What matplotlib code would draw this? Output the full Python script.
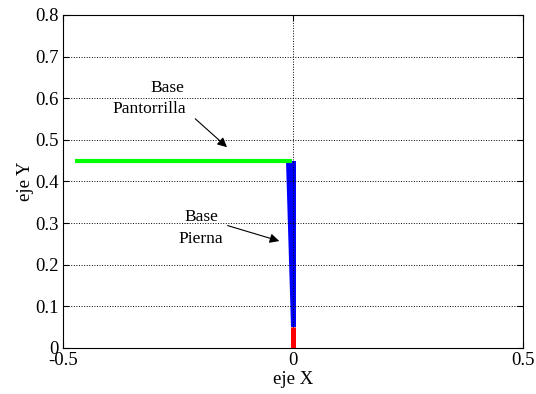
import matplotlib.pyplot as plt

plt.rcParams['font.family'] = ['Liberation Serif', 'DejaVu Serif']
plt.rcParams['font.size'] = 13.5

# leg (pierna) quadrilateral, foot (pantorrilla) line, base segment
pierna_x = [-0.016, 0.006, 0.006, -0.005]
pierna_y = [0.45, 0.45, 0.05, 0.05]
pantorrilla_x = [-0.474, -0.002]
pantorrilla_y = [0.449, 0.449]
base_x = [0.0005, 0.0005]
base_y = [0.0, 0.05]

xticks = [-0.5, 0, 0.5]
yticks = [0, 0.1, 0.2, 0.3, 0.4, 0.5, 0.6, 0.7, 0.8]

fig = plt.figure(figsize=(5.36, 3.94), dpi=100)
ax = fig.add_axes([0.1175, 0.1168, 0.8583, 0.8452])

ax.fill(pierna_x, pierna_y, color='#0000ff', lw=0)
ax.plot(pantorrilla_x, pantorrilla_y, color='#00ff00', lw=3, solid_capstyle='butt')
ax.plot(base_x, base_y, color='#ff0000', lw=3.6, solid_capstyle='butt')

ax.set_xlim(-0.5, 0.5)
ax.set_ylim(0, 0.8)
ax.set_xticks(xticks)
ax.set_xticklabels(['-0.5', '0', '0.5'])
ax.set_yticks(yticks)
ax.set_yticklabels(['0', '0.1', '0.2', '0.3', '0.4', '0.5', '0.6', '0.7', '0.8'])
ax.tick_params(direction='in', length=4, width=0.8, top=True, right=True, pad=3)
ax.grid(True, color='black', linestyle=':', linewidth=0.7)
ax.set_xlabel('eje X', labelpad=1)
ax.set_ylabel('eje Y', labelpad=1)

ax.text(-0.272, 0.615, 'Base', ha='center', va='baseline', fontsize=12.5)
ax.text(-0.313, 0.565, 'Pantorrilla', ha='center', va='baseline', fontsize=12.5)
ax.annotate('', xy=(-0.139, 0.478), xytext=(-0.217, 0.555),
            arrowprops=dict(arrowstyle='-|>', color='black', lw=0.8, mutation_scale=14))
ax.text(-0.2, 0.306, 'Base', ha='center', va='baseline', fontsize=12.5)
ax.text(-0.2, 0.253, 'Pierna', ha='center', va='baseline', fontsize=12.5)
ax.annotate('', xy=(-0.024, 0.255), xytext=(-0.148, 0.296),
            arrowprops=dict(arrowstyle='-|>', color='black', lw=0.8, mutation_scale=14))

fig.savefig('out.png', dpi=100)
